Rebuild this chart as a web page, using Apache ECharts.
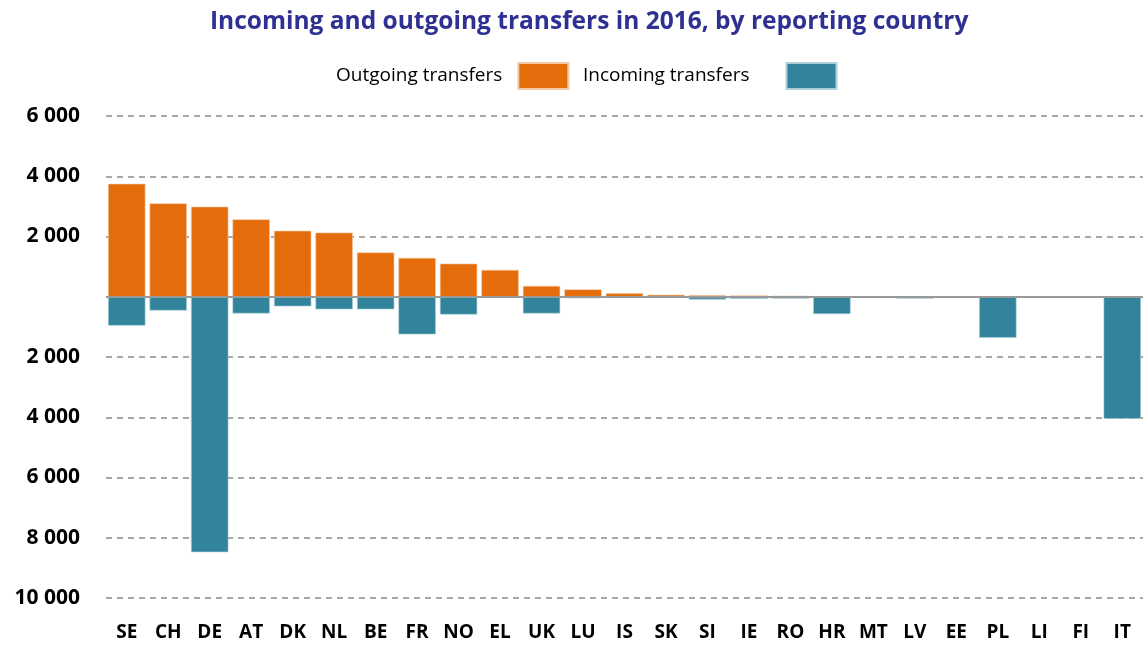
<!DOCTYPE html>
<html>
<head>
<meta charset="utf-8">
<script src="https://cdn.jsdelivr.net/npm/echarts@6/dist/echarts.min.js"></script>
<style>
  html, body { margin: 0; padding: 0; background: #fff; }
  #chart { width: 1143px; height: 645px; }
</style>
</head>
<body>
<div id="chart"></div>
<script>
// Reporting countries
var countries = ["SE", "CH", "DE", "AT", "DK", "NL", "BE", "FR", "NO", "EL", "UK", "LU", "IS",
  "SK", "SI", "IE", "RO", "HR", "MT", "LV", "EE", "PL", "LI", "FI", "IT"];

// Outgoing transfers (drawn above zero)
var outgoing = [3750, 3100, 2990, 2570, 2190, 2130, 1470, 1290, 1100, 890, 360, 245, 115,
  65, 55, 40, 35, 10, 5, 0, 0, 0, 0, 0, 0];

// Incoming transfers (drawn below zero)
var incoming = [960, 455, 8480, 555, 320, 420, 420, 1250, 590, 0, 555, 50, 0,
  0, 90, 70, 60, 575, 20, 60, 0, 1360, 0, 0, 4050];

var yTicks = { min: -10000, max: 6000, interval: 2000 };

function fmt(v) {
  if (v === 0) return "";
  return String(Math.abs(v)).replace(/\B(?=(\d{3})+(?!\d))/g, " ");
}

var chart = echarts.init(document.getElementById("chart"));

// shared legend look, one legend box per item so the spacing can follow the original
var legendBase = {
  top: 57,
  align: "right",
  icon: "rect",
  itemWidth: 50,
  itemHeight: 26
};

var option = {
  animation: false,
  textStyle: { fontFamily: "Open Sans" },
  title: {
    text: "Incoming and outgoing transfers in 2016, by reporting country",
    left: 205,
    top: 5,
    textStyle: { color: "#2E3192", fontSize: 24.5, fontWeight: "bold", fontFamily: "Open Sans" }
  },
  legend: [
    Object.assign({}, legendBase, {
      left: 331,
      data: ["Outgoing transfers"],
      textStyle: { fontSize: 19, color: "#000", padding: [0, 11, 0, 0] }
    }),
    Object.assign({}, legendBase, {
      left: 578,
      data: ["Incoming transfers"],
      textStyle: { fontSize: 19, color: "#000", padding: [0, 32, 0, 0] }
    })
  ],
  grid: { left: 106, top: 116, width: 1047, height: 482 },
  xAxis: {
    type: "category",
    data: countries,
    axisLine: { show: false, onZero: false },
    axisTick: { show: false },
    axisLabel: { margin: 25, fontSize: 19, fontWeight: "bold", color: "#000" }
  },
  yAxis: {
    type: "value",
    min: yTicks.min,
    max: yTicks.max,
    interval: yTicks.interval,
    axisLine: { show: false },
    axisTick: { show: false },
    axisLabel: { formatter: fmt, fontSize: 21, fontWeight: "bold", color: "#000", margin: 26 },
    splitLine: { lineStyle: { color: "#8c8c8c", width: 1.5, type: [6, 5] } }
  },
  series: [
    {
      name: "Outgoing transfers",
      type: "bar",
      data: outgoing,
      barWidth: "90%",
      barGap: "-100%",
      itemStyle: { color: "#E46C0A", borderColor: "#f3c7a4", borderWidth: 0.6 },
      markLine: {
        silent: true,
        symbol: "none",
        label: { show: false },
        lineStyle: { color: "#999", type: "solid", width: 2 },
        data: [{ yAxis: 0 }]
      }
    },
    {
      name: "Incoming transfers",
      type: "bar",
      data: incoming.map(function (v) { return -v; }),
      barWidth: "90%",
      itemStyle: { color: "#31849B", borderColor: "#a9cfd9", borderWidth: 0.6 }
    }
  ]
};

chart.setOption(option);
</script>
</body>
</html>
